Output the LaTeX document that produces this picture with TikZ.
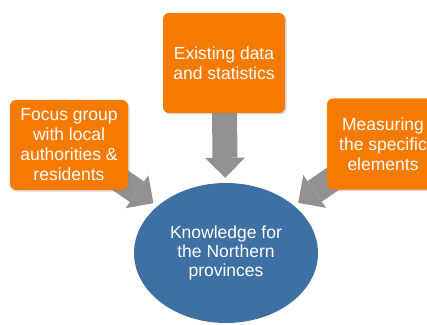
\documentclass[tikz,border=0pt]{standalone}
\usepackage{fontspec}
\setmainfont{Liberation Sans}
\usetikzlibrary{shapes.geometric,arrows.meta,shadows,backgrounds}
\definecolor{boxorange}{RGB}{247,122,0}
\definecolor{knowblue}{RGB}{62,112,164}
\definecolor{arrowgray}{RGB}{145,145,145}

\begin{document}
\begin{tikzpicture}[x=1pt,y=1pt,
  box/.style={rectangle,rounded corners=6pt,fill=boxorange,text=white,align=center,inner sep=0pt,
    font=\fontsize{17.5}{20}\selectfont,drop shadow={opacity=0.3,shadow xshift=1.5pt,shadow yshift=-1.5pt}},
  goal/.style={ellipse,fill=knowblue,text=white,align=center,inner sep=0pt,
    minimum width=184pt,minimum height=140pt,font=\fontsize{17.5}{19}\selectfont},
  bigarrow/.style={draw=arrowgray,line width=25pt,-{Triangle[width=40pt,length=20pt,line width=0pt]},shorten >=5pt}]
\useasboundingbox (0,0) rectangle (427,324);

\node[goal] (4) at (226,71) {Knowledge for\\the Northern\\provinces};
\node[box,minimum width=122pt,minimum height=100pt] (1) at (224,261) {Existing data\\and statistics};
\node[box,minimum width=118pt,minimum height=90pt] (2) at (69,179) {Focus group\\with local\\authorities \&\\residents};
\node[box,minimum width=112pt,minimum height=91pt] (3) at (383,180) {Measuring\\the specific\\elements};

\begin{scope}[on background layer]
  \draw[bigarrow] (1.center) -- (4);
  \draw[bigarrow] (2.center) -- (4);
     \draw[bigarrow] (3.center) -- (4);
\end{scope}
\end{tikzpicture}
\end{document}
